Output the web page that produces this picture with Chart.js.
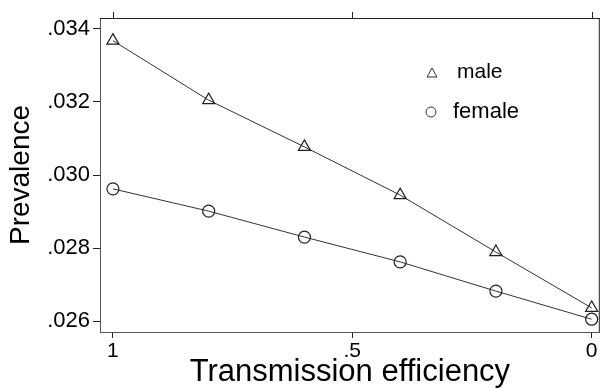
<!DOCTYPE html>
<html lang="en">
<head>
    <meta charset="UTF-8">
    <title>Prevalence by transmission efficiency</title>
    <script src="https://cdn.jsdelivr.net/npm/chart.js"></script>
    <style>
        html, body { margin: 0; padding: 0; background: #fff; }
        #wrap { width: 608px; height: 388px; }
    </style>
</head>
<body>
    <div id="wrap"><canvas id="chart" width="608" height="388"></canvas></div>

    <script>
        // values
        const efficiency = [1, 0.8, 0.6, 0.4, 0.2, 0];
        const male = [0.03368, 0.03205, 0.03077, 0.02945, 0.02789, 0.02636];
        const female = [0.02962, 0.02901, 0.02830, 0.02762, 0.02682, 0.02605];
        const xTicks = [1, 0.5, 0];
        const yTicks = [0.026, 0.028, 0.030, 0.032, 0.034];

        const FONT = '"Liberation Sans", Arial, sans-serif';
        const INK = '#222';

        // stata-style labels: drop the leading zero
        function xLabel(v) {
            if (v === 0) return '0';
            if (v === 1) return '1';
            return String(v).replace(/^0\./, '.');
        }
        function yLabel(v) {
            return v.toFixed(3).replace(/^0\./, '.');
        }

        const frame = {
            id: 'frame',
            afterDraw(chart) {
                const { ctx, chartArea: a, scales } = chart;
                ctx.save();
                ctx.strokeStyle = INK;
                ctx.lineWidth = 1;
                ctx.beginPath();
                ctx.moveTo(a.left, a.top + 0.5);
                ctx.lineTo(a.right, a.top + 0.5);
                ctx.moveTo(a.right - 0.5, a.top);
                ctx.lineTo(a.right - 0.5, a.bottom);
                ctx.stroke();
                // small ticks on top edge
                xTicks.forEach(v => {
                    const x = Math.round(scales.x.getPixelForValue(v)) + 0.5;
                    ctx.beginPath();
                    ctx.moveTo(x, a.top);
                    ctx.lineTo(x, a.top - 6);
                    ctx.stroke();
                });

                // legend inside the plot
                ctx.fillStyle = '#000';
                ctx.textBaseline = 'alphabetic';
                ctx.lineWidth = 1;
                ctx.strokeStyle = '#333';
                const tx = 432, ty = 73, r = 5;
                ctx.beginPath();
                ctx.moveTo(tx, ty - r);
                ctx.lineTo(tx + r, ty + r - 1);
                ctx.lineTo(tx - r, ty + r - 1);
                ctx.closePath();
                ctx.stroke();
                ctx.font = '21px ' + FONT;
                ctx.fillText('male', 457, 78);
                ctx.beginPath();
                ctx.arc(431, 112, 5, 0, Math.PI * 2);
                ctx.stroke();
                ctx.font = '22px ' + FONT;
                ctx.fillText('female', 453, 118);
                ctx.restore();
            }
        };

        new Chart(document.getElementById('chart'), {
            type: 'scatter',
            data: {
                datasets: [{
                    label: 'male',
                    data: efficiency.map((x, i) => ({ x: x, y: male[i] })),
                    showLine: true,
                    borderColor: '#333',
                    borderWidth: 1,
                    pointStyle: 'triangle',
                    pointRadius: 7,
                    pointBorderWidth: 1.2,
                    pointBorderColor: '#222',
                    pointBackgroundColor: 'rgba(255,255,255,0)'
                }, {
                    label: 'female',
                    data: efficiency.map((x, i) => ({ x: x, y: female[i] })),
                    showLine: true,
                    borderColor: '#333',
                    borderWidth: 1,
                    pointStyle: 'circle',
                    pointRadius: 6,
                    pointBorderWidth: 1.2,
                    pointBorderColor: '#222',
                    pointBackgroundColor: 'rgba(255,255,255,0)'
                }]
            },
            options: {
                responsive: false,
                animation: false,
                devicePixelRatio: 1,
                layout: { padding: { top: 18, right: 4, left: 0, bottom: 0 } },
                plugins: {
                    legend: { display: false },
                    tooltip: { enabled: false }
                },
                scales: {
                    x: {
                        type: 'linear',
                        reverse: true,
                        min: -0.017,
                        max: 1.027,
                        afterBuildTicks: s => { s.ticks = xTicks.map(v => ({ value: v })); },
                        afterFit: s => { s.height = 56; },
                        grid: {
                            drawOnChartArea: false,
                            tickLength: 6,
                            color: INK,
                            tickColor: INK
                        },
                        border: { display: true, color: '#555', width: 1 },
                        ticks: {
                            color: '#000',
                            padding: 3,
                            maxRotation: 0,
                            font: { family: FONT, size: 21, lineHeight: 1.0 },
                            callback: v => xLabel(v)
                        },
                        title: {
                            display: true,
                            text: 'Transmission efficiency',
                            color: '#000',
                            padding: 0,
                            font: { family: FONT, size: 31, lineHeight: 1.0 }
                        }
                    },
                    y: {
                        min: 0.0257,
                        max: 0.0343,
                        afterBuildTicks: s => { s.ticks = yTicks.map(v => ({ value: v })); },
                        afterFit: s => { s.width = 100; },
                        grid: {
                            drawOnChartArea: false,
                            tickLength: 7,
                            color: INK,
                            tickColor: INK
                        },
                        border: { display: true, color: '#555', width: 1 },
                        ticks: {
                            color: '#000',
                            padding: 3,
                            font: { family: FONT, size: 22 },
                            callback: v => yLabel(v)
                        },
                        title: {
                            display: true,
                            text: 'Prevalence',
                            color: '#000',
                            padding: { top: 6, bottom: 0 },
                            font: { family: FONT, size: 28, lineHeight: 1.1 }
                        }
                    }
                }
            },
            plugins: [frame]
        });
    </script>
</body>
</html>
